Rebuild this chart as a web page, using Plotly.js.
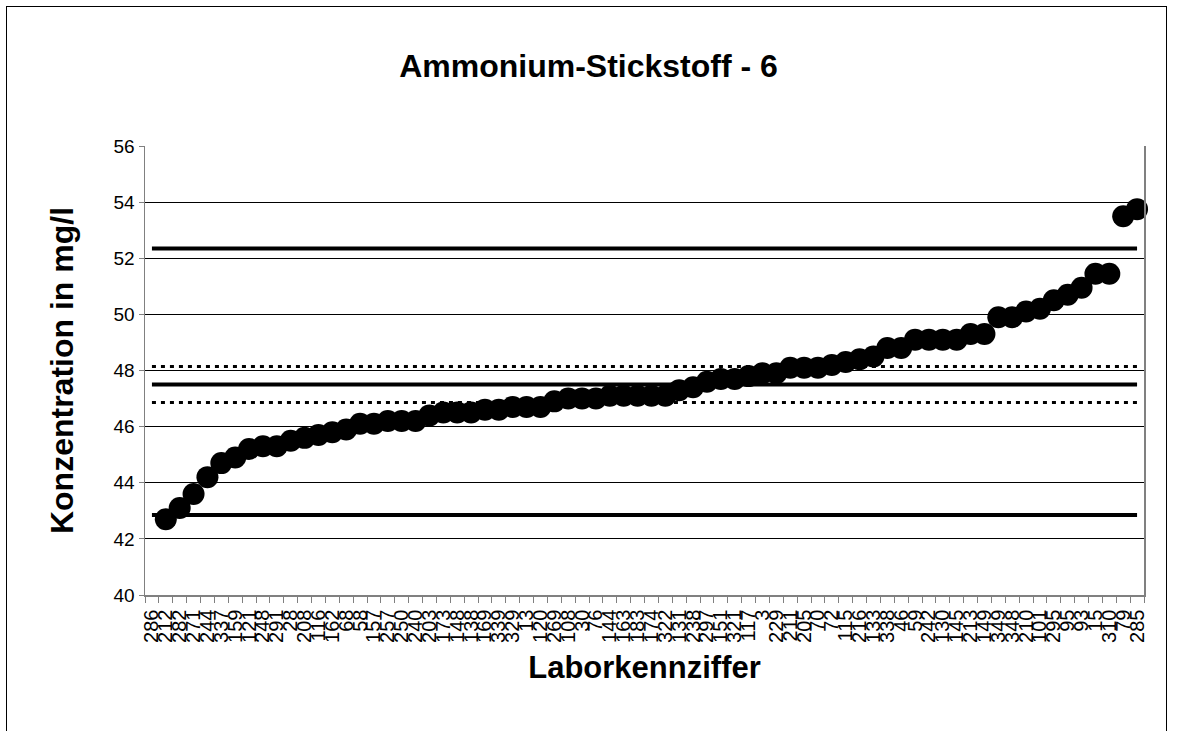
<!DOCTYPE html>
<html><head><meta charset="utf-8">
<script src="https://cdn.plot.ly/plotly-3.0.1.min.js"></script>
<style>
html,body{margin:0;padding:0;background:#fff;}
#frame{position:absolute;left:6px;top:6px;width:1161px;height:740px;border:1px solid #000;box-sizing:border-box;}
#chart{position:absolute;left:0;top:0;width:1177px;height:731px;}
</style></head><body>
<div id="frame"></div>
<div id="chart"></div>
<script>
// Lab codes (sorted by result)
const labCodes = ["286","212","282","271","244","337","159","121","248","291",
  "28","208","116","162","68","58","157","257","250","240",
  "203","173","148","138","169","339","329","13","120","269",
  "108","30","76","144","163","183","174","322","131","238",
  "297","151","321","117","3","229","211","205","70","72",
  "115","216","133","338","46","59","242","130","145","213",
  "149","349","348","210","101","295","95","93","15","310",
  "79","285"];
// Concentrations in mg/l (first lab lies below the axis range)
const concentration = [null,42.7,43.1,43.6,44.2,44.7,44.9,45.2,45.3,45.3,
  45.5,45.6,45.7,45.8,45.9,46.1,46.1,46.2,46.2,46.2,
  46.4,46.5,46.5,46.5,46.6,46.6,46.7,46.7,46.7,46.9,
  47.0,47.0,47.0,47.1,47.1,47.1,47.1,47.1,47.3,47.4,
  47.6,47.7,47.7,47.8,47.9,47.9,48.1,48.1,48.1,48.2,
  48.3,48.4,48.5,48.8,48.8,49.1,49.1,49.1,49.1,49.3,
  49.3,49.9,49.9,50.1,50.2,50.5,50.7,50.95,51.45,51.45,
  53.5,53.75];
const assignedValue = 47.5;
const upperTolerance = 52.35;
const lowerTolerance = 42.85;
const upperConfidence = 48.14;
const lowerConfidence = 46.86;

const idx = labCodes.map((_, i) => i);
const ends = [0, labCodes.length - 1];
const FONT = '"Liberation Sans", Arial, sans-serif';

function hline(v, dash, w) {
  return {x: ends, y: [v, v], mode: 'lines', type: 'scatter', hoverinfo: 'skip',
    line: {color: '#000', width: w, dash: dash}, showlegend: false, cliponaxis: false};
}

const traces = [
  hline(upperTolerance, 'solid', 4),
  hline(lowerTolerance, 'solid', 4),
  hline(assignedValue, 'solid', 4),
  hline(upperConfidence, '4px,5px', 3),
  hline(lowerConfidence, '4px,5px', 3),
  {x: idx, y: concentration, mode: 'markers', type: 'scatter', showlegend: false,
   cliponaxis: false, marker: {color: '#000', size: 22, symbol: 'circle'}}
];

const layout = {
  width: 1177, height: 731,
  margin: {l: 145, r: 33, t: 146, b: 136},
  paper_bgcolor: 'rgba(0,0,0,0)', plot_bgcolor: '#fff',
  font: {family: FONT, color: '#000'},
  title: {text: 'Ammonium-Stickstoff - 6', x: 0.5, xref: 'container', xanchor: 'center',
    y: 0.91, yref: 'container', yanchor: 'middle',
    font: {family: FONT, size: 32, weight: 'bold', color: '#000'}},
  xaxis: {
    range: [-0.5, labCodes.length - 0.5], tickmode: 'array', tickvals: idx, ticktext: labCodes,
    tickangle: -90, tickfont: {family: FONT, size: 20, color: '#000'}, ticks: '',
    ticklabelstandoff: 5,
    showgrid: false, zeroline: false, showline: true, linecolor: '#808080', linewidth: 1.5,
    minor: {tickmode: 'array', tickvals: idx.map(i => i - 0.5).concat([labCodes.length - 0.5]),
      ticks: 'outside', ticklen: 6, tickcolor: '#808080', tickwidth: 1, showgrid: false},
    title: {text: 'Laborkennziffer', standoff: 14, font: {family: FONT, size: 31, weight: 'bold', color: '#000'}}
  },
  yaxis: {
    range: [40, 56], dtick: 2, tick0: 40, ticks: 'outside', ticklen: 5, tickcolor: '#808080',
    ticklabelstandoff: 0,
    tickfont: {family: FONT, size: 19, color: '#000'},
    showgrid: true, gridcolor: '#000', gridwidth: 1, zeroline: false,
    showline: true, mirror: true, linecolor: '#808080', linewidth: 1.5,
    title: {text: 'Konzentration in mg/l', standoff: 30, font: {family: FONT, size: 32, weight: 'bold', color: '#000'}}
  }
};

Plotly.newPlot('chart', traces, layout, {displayModeBar: false, staticPlot: true});
</script>
</body></html>
